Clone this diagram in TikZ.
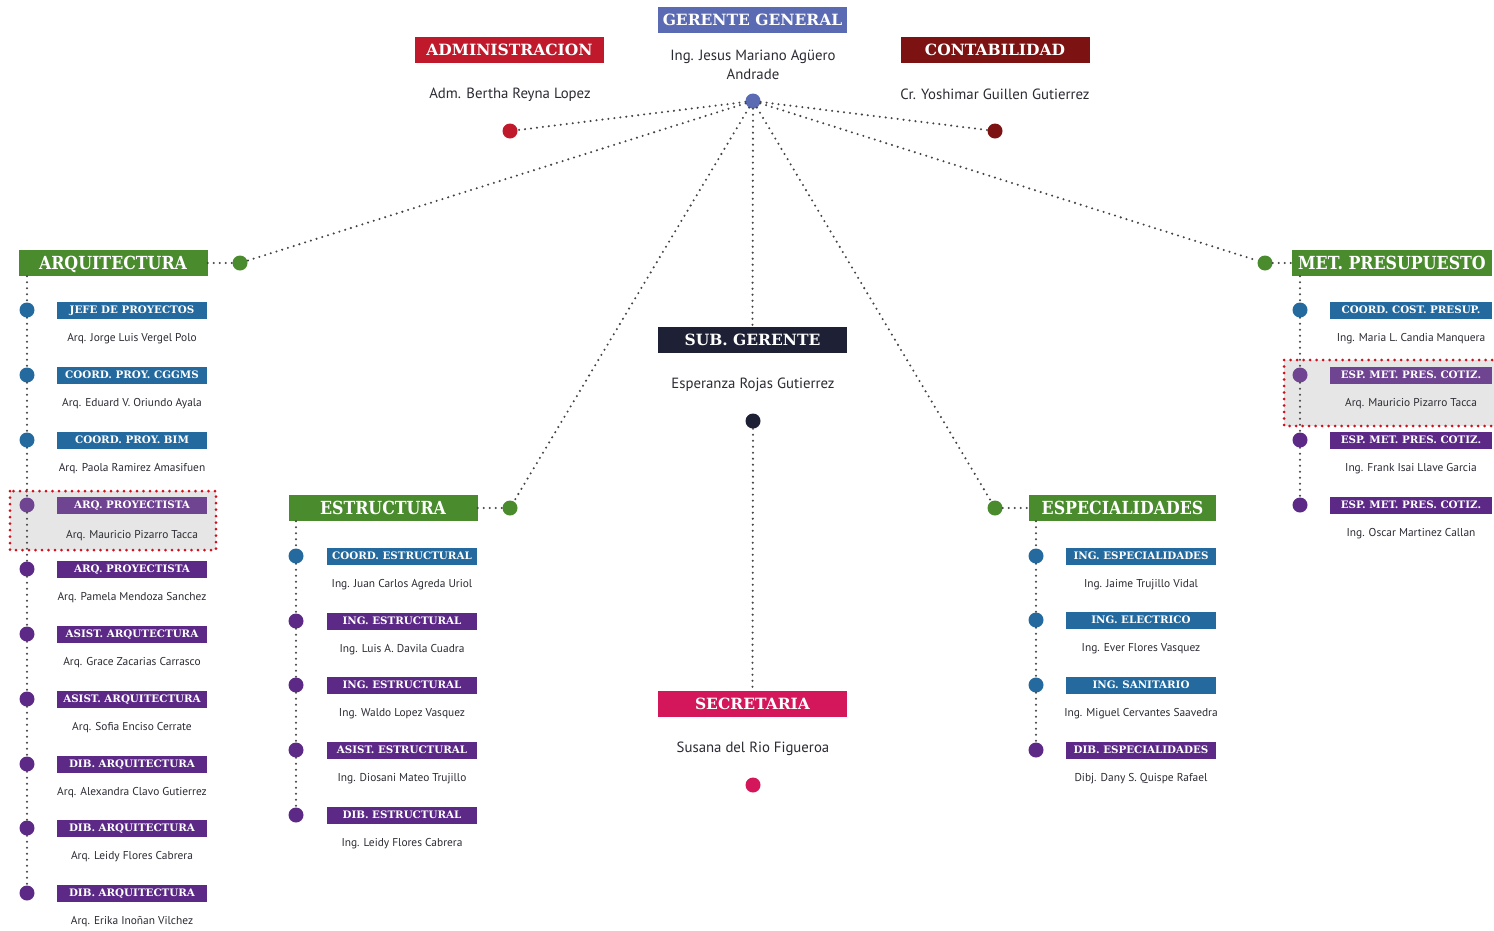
\documentclass[tikz,border=0pt]{standalone}
\usepackage{fontspec}
\setmainfont{PT Sans}
\newfontfamily\headfont{DejaVu Serif}
\newfontfamily\secfont{DejaVu Serif}[FakeStretch=0.88]
\definecolor{cgg}{HTML}{5B6BB3}
\definecolor{cadm}{HTML}{C1192C}
\definecolor{ccont}{HTML}{7D1212}
\definecolor{cgreen}{HTML}{4A8B2E}
\definecolor{cblue}{HTML}{246A9E}
\definecolor{cpurp}{HTML}{5C2A86}
\definecolor{cpurpl}{HTML}{6F4490}
\definecolor{cnavy}{HTML}{1E2136}
\definecolor{csec}{HTML}{D4175B}
\definecolor{ctext}{HTML}{2B2B33}
\definecolor{cdot}{HTML}{444444}
\definecolor{chl}{HTML}{E6E6E6}
\definecolor{chlb}{HTML}{D0101C}
\tikzset{
 bigbox/.style={fill=#1, text=white, minimum width=189pt, minimum height=26pt, inner sep=0pt, text height=11.3pt, text depth=0pt, font=\headfont\bfseries\fontsize{15.5}{16}\selectfont},
 secbox/.style={fill=#1, text=white, minimum width=189pt, minimum height=26pt, inner sep=0pt, text height=13.1pt, text depth=0pt, font=\secfont\bfseries\fontsize{18}{18}\selectfont},
 smallbox/.style={fill=#1, text=white, minimum width=150pt, minimum height=17pt, inner sep=0pt, text height=7.5pt, text depth=0pt, font=\headfont\bfseries\fontsize{10.3}{11}\selectfont},
 namet/.style={text=ctext, font=\fontsize{11.4}{12}\selectfont, inner sep=0pt},
 bignamet/.style={text=ctext, font=\fontsize{14.8}{19}\selectfont, inner sep=0pt, align=center},
 dotn/.style={circle, fill=#1, minimum size=15pt, inner sep=0pt},
 conn/.style={draw=cdot, line width=2.3pt, line cap=round, dash pattern=on 0pt off 6pt},
 hl/.style={fill=chl, draw=chlb, line width=3pt, line cap=round, dash pattern=on 0pt off 6.5pt},
}
\begin{document}
\begin{tikzpicture}[x=1pt,y=-1pt]
\useasboundingbox (0,0) rectangle (1494,930);
\fill[white] (0,0) rectangle (1494,930);
% highlights
\draw[hl] (10,491) rectangle (216,550);
\draw[hl] (1284,360) rectangle (1504,426);
% top level
\node[bigbox=cgg] (gg) at (752.5,20) {GERENTE GENERAL};
\node[bignamet] (ggn) at (753,64.5) {Ing. Jesus Mariano Agüero\\Andrade};
\node[dotn=cgg] (ggd) at (753,101) {};
\node[bigbox=cadm] (adm) at (509.5,50) {ADMINISTRACION};
\node[bignamet] (admn) at (510,94.5) {Adm. Bertha Reyna Lopez};
\node[dotn=cadm] (admd) at (510,131) {};
\node[bigbox=ccont] (cont) at (995,50) {CONTABILIDAD};
\node[bignamet] (contn) at (995,94.5) {Cr. Yoshimar Guillen Gutierrez};
\node[dotn=ccont] (contd) at (995,131) {};
% sub gerente / secretaria
\node[bigbox=cnavy] (sub) at (752.5,340) {SUB. GERENTE};
\node[bignamet] (subn) at (753,384.5) {Esperanza Rojas Gutierrez};
\node[dotn=cnavy] (subd) at (753,421) {};
\node[bigbox=csec] (sec) at (752.5,704) {SECRETARIA};
\node[bignamet] (secn) at (753,748.5) {Susana del Rio Figueroa};
\node[dotn=csec] (secd) at (753,785) {};
% sections
\node[secbox=cgreen] (arq) at (113,263) {ARQUITECTURA};
\node[dotn=cgreen] (arqd) at (240,263) {};
\node[secbox=cgreen, minimum width=200pt] (met) at (1392,263) {MET. PRESUPUESTO};
\node[dotn=cgreen] (metd) at (1265,263) {};
\node[secbox=cgreen] (est) at (383,508) {ESTRUCTURA};
\node[dotn=cgreen] (estd) at (510,508) {};
\node[secbox=cgreen, minimum width=187pt] (esp) at (1122.5,508) {ESPECIALIDADES};
\node[dotn=cgreen] (espd) at (995,508) {};
% connectors from top
\draw[conn] (ggd) -- (admd);
\draw[conn] (ggd) -- (contd);
\draw[conn] (ggd) -- (arqd);
\draw[conn] (ggd) -- (metd);
\draw[conn] (ggd) -- (estd);
\draw[conn] (ggd) -- (espd);
\draw[conn] (ggd) -- (sub.north);
\draw[conn] (subd) -- (sec.north);
\draw[conn] (arq.east) -- (arqd);
\draw[conn] (metd) -- (met.west);
\draw[conn] (est.east) -- (estd);
\draw[conn] (espd) -- (esp.west);
% ARQUITECTURA column
\foreach \i/\y/\c/\d/\t/\n in {
 1/310/cblue/29/JEFE DE PROYECTOS/Arq. Jorge Luis Vergel Polo,
 2/375/cblue/29/COORD. PROY. CGGMS/Arq. Eduard V. Oriundo Ayala,
 3/440/cblue/29/COORD. PROY. BIM/Arq. Paola Ramirez Amasifuen,
 4/505/cpurpl/31/ARQ. PROYECTISTA/Arq. Mauricio Pizarro Tacca,
 5/569/cpurp/29/ARQ. PROYECTISTA/Arq. Pamela Mendoza Sanchez,
 6/634/cpurp/29/ASIST. ARQUTECTURA/Arq. Grace Zacarias Carrasco,
 7/699/cpurp/29/ASIST. ARQUITECTURA/Arq. Sofia Enciso Cerrate,
 8/764/cpurp/29/DIB. ARQUITECTURA/Arq. Alexandra Clavo Gutierrez,
 9/828/cpurp/29/DIB. ARQUITECTURA/Arq. Leidy Flores Cabrera,
 10/893/cpurp/29/DIB. ARQUITECTURA/Arq. Erika Inoñan Vilchez}{
 \node[dotn=\c] (ad\i) at (27,\y) {};
 \node[smallbox=\c] (ab\i) at (132,\y) {\t};
 \node[namet] (an\i) at (132,\y+\d) {\n};
}
\coordinate (arqb) at (arq.south -| ad1);
\draw[conn] (arqb) -- (ad1);
\foreach \i [evaluate=\i as \j using int(\i+1)] in {1,...,9}
 \draw[conn] (ad\i) -- (ad\j);
% ESTRUCTURA column
\foreach \i/\y/\c/\t/\n in {
 1/556/cblue/COORD. ESTRUCTURAL/Ing. Juan Carlos Agreda Uriol,
 2/621/cpurp/ING. ESTRUCTURAL/Ing. Luis A. Davila Cuadra,
 3/685/cpurp/ING. ESTRUCTURAL/Ing. Waldo Lopez Vasquez,
 4/750/cpurp/ASIST. ESTRUCTURAL/Ing. Diosani Mateo Trujillo,
 5/815/cpurp/DIB. ESTRUCTURAL/Ing. Leidy Flores Cabrera}{
 \node[dotn=\c] (ed\i) at (296,\y) {};
 \node[smallbox=\c] (eb\i) at (402,\y) {\t};
 \node[namet] (en\i) at (402,\y+29) {\n};
}
\coordinate (estb) at (est.south -| ed1);
\draw[conn] (estb) -- (ed1);
\foreach \i [evaluate=\i as \j using int(\i+1)] in {1,...,4}
 \draw[conn] (ed\i) -- (ed\j);
% ESPECIALIDADES column
\foreach \i/\y/\c/\t/\n in {
 1/556/cblue/ING. ESPECIALIDADES/Ing. Jaime Trujillo Vidal,
 2/620/cblue/ING. ELECTRICO/Ing. Ever Flores Vasquez,
 3/685/cblue/ING. SANITARIO/Ing. Miguel Cervantes Saavedra,
 4/750/cpurp/DIB. ESPECIALIDADES/Dibj. Dany S. Quispe Rafael}{
 \node[dotn=\c] (sd\i) at (1036,\y) {};
 \node[smallbox=\c] (sb\i) at (1141,\y) {\t};
 \node[namet] (sn\i) at (1141,\y+29) {\n};
}
\coordinate (espb) at (esp.south -| sd1);
\draw[conn] (espb) -- (sd1);
\foreach \i [evaluate=\i as \j using int(\i+1)] in {1,...,3}
 \draw[conn] (sd\i) -- (sd\j);
% MET. PRESUPUESTO column
\foreach \i/\y/\c/\t/\n in {
 1/310/cblue/COORD. COST. PRESUP./Ing. Maria L. Candia Manquera,
 2/375/cpurpl/ESP. MET. PRES. COTIZ./Arq. Mauricio Pizarro Tacca,
 3/440/cpurp/ESP. MET. PRES. COTIZ./Ing. Frank Isai Llave Garcia,
 4/505/cpurp/ESP. MET. PRES. COTIZ./Ing. Oscar Martinez Callan}{
 \node[dotn=\c] (md\i) at (1300,\y) {};
 \node[smallbox=\c, minimum width=162pt] (mb\i) at (1411,\y) {\t};
 \node[namet] (mn\i) at (1411,\y+29) {\n};
}
\coordinate (metb) at (met.south -| md1);
\draw[conn] (metb) -- (md1);
\foreach \i [evaluate=\i as \j using int(\i+1)] in {1,...,3}
 \draw[conn] (md\i) -- (md\j);
\end{tikzpicture}
\end{document}
